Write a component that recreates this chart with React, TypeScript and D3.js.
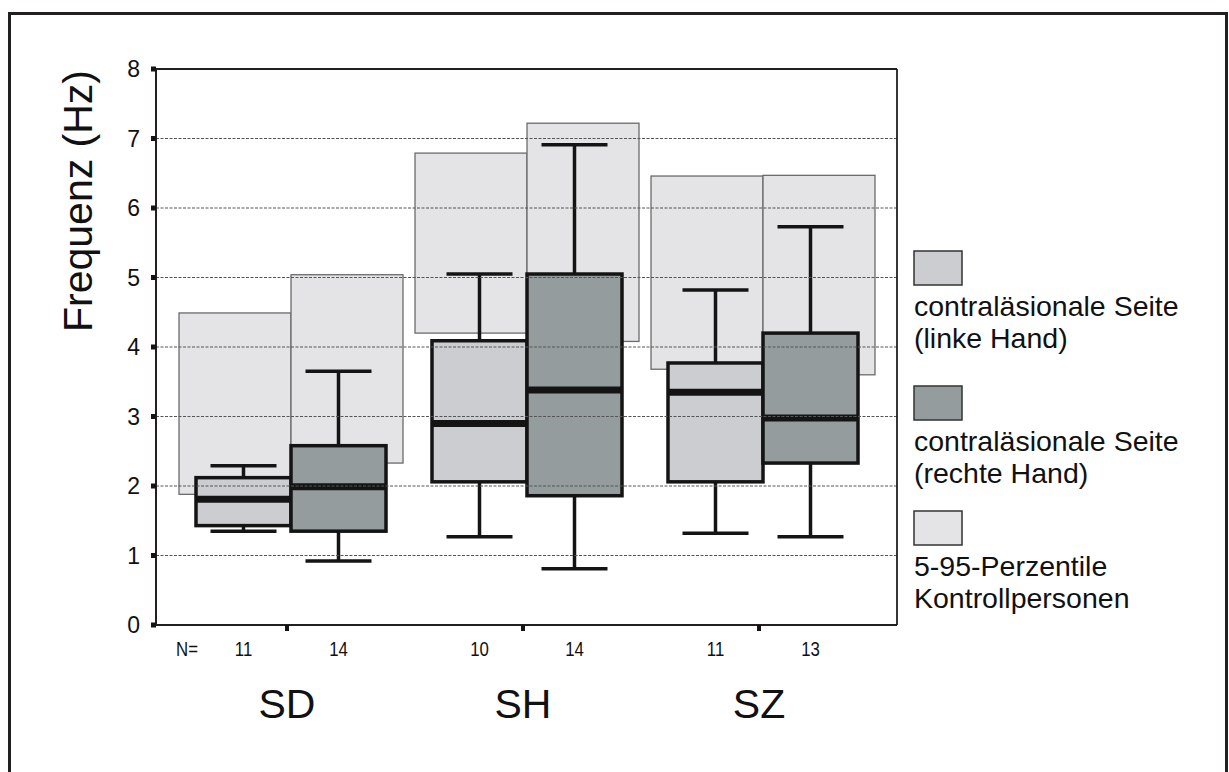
import * as d3 from "d3";

// groups and sample sizes
const groups = ["SD", "SH", "SZ"];
const sides = ["links", "rechts"];
const nLinks = [11, 10, 11];
const nRechts = [14, 14, 13];

// box stats per group: [low whisker, Q1, median, Q3, high whisker]
const boxLinks = [
  [1.35, 1.43, 1.81, 2.12, 2.29],
  [1.27, 2.06, 2.9, 4.09, 5.05],
  [1.32, 2.06, 3.35, 3.77, 4.82],
];
const boxRechts = [
  [0.92, 1.35, 1.99, 2.58, 3.65],
  [0.81, 1.86, 3.38, 5.05, 6.91],
  [1.27, 2.33, 2.98, 4.2, 5.73],
];

// 5-95 percentile of controls: [p5, p95]
const ctrlLinks = [
  [1.88, 4.49],
  [4.2, 6.79],
  [3.68, 6.46],
];
const ctrlRechts = [
  [2.33, 5.04],
  [4.08, 7.22],
  [3.6, 6.47],
];

const yTicks = [0, 1, 2, 3, 4, 5, 6, 7, 8];

const legendItems = [
  { fill: "#cccdd1", lines: ["contraläsionale Seite", "(linke Hand)"] },
  { fill: "#959c9d", lines: ["contraläsionale Seite", "(rechte Hand)"] },
  { fill: "#e4e4e6", lines: ["5-95-Perzentile", "Kontrollpersonen"] },
];
const legendTop = [251, 386, 511];

const width = 1229;
const height = 772;
const left = 156, right = 897, top = 69, bottom = 625;
const font = "Arial, 'Liberation Sans', Helvetica, sans-serif";

export default function App() {
  const y = d3.scaleLinear().domain([0, 8]).range([bottom, top]);
  const x = d3.scalePoint().domain(groups).range([287, 759]);

  const boxW = 95;
  const ctrlW = 112;
  const capW = 66;

  // the two boxes meet a few px right of the tick
  const split = (g: string) => (x(g) as number) + 4;

  const boxColor = ["#cccdd1", "#959c9d"];

  const nLabel = (key: string, cx: number, txt: string | number) => (
    <text key={key} transform={`translate(${cx},656) scale(0.82,1)`} textAnchor="middle"
      fontFamily={font} fontSize={20.5} fill="#111">{txt}</text>
  );

  return (
    <svg width={width} height={height} style={{ display: "block", position: "absolute", left: 0, top: 0 }}>
      <rect x={0} y={0} width={width} height={height} fill="#fff" />
      <rect x={9.5} y={13.5} width={1217} height={780} fill="none" stroke="#231f20" strokeWidth={3} />

      {/* control percentile bands */}
      {groups.map((g, i) =>
        [ctrlLinks[i], ctrlRechts[i]].map((c, s) => {
          const x0 = s === 0 ? split(g) - ctrlW : split(g);
          return (
            <rect key={g + s} x={x0} y={y(c[1])} width={ctrlW} height={y(c[0]) - y(c[1])}
              fill="#e4e4e6" stroke="#6b6b6b" strokeWidth={1.3} />
          );
        })
      )}

      {/* boxes */}
      {groups.map((g, i) =>
        [boxLinks[i], boxRechts[i]].map((b, s) => {
          const x0 = s === 0 ? split(g) - boxW : split(g);
          const cx = x0 + boxW / 2;
          const [lo, q1, med, q3, hi] = b;
          return (
            <g key={g + sides[s]}>
              <line x1={cx} x2={cx} y1={y(q3)} y2={y(hi)} stroke="#141414" strokeWidth={3.5} />
              <line x1={cx} x2={cx} y1={y(q1)} y2={y(lo)} stroke="#141414" strokeWidth={3.5} />
              <line x1={cx - capW / 2} x2={cx + capW / 2} y1={y(hi)} y2={y(hi)} stroke="#141414" strokeWidth={3.5} />
              <line x1={cx - capW / 2} x2={cx + capW / 2} y1={y(lo)} y2={y(lo)} stroke="#141414" strokeWidth={3.5} />
              <rect x={x0} y={y(q3)} width={boxW} height={y(q1) - y(q3)}
                fill={boxColor[s]} stroke="#141414" strokeWidth={3.5} />
              <line x1={x0} x2={x0 + boxW} y1={y(med)} y2={y(med)} stroke="#141414" strokeWidth={7} />
            </g>
          );
        })
      )}

      {/* grid lines on top */}
      {yTicks.filter((t) => t > 0 && t < 8).map((t) => (
        <line key={t} x1={left} x2={right} y1={y(t)} y2={y(t)} stroke="#555" strokeWidth={1} strokeDasharray="3,1.5" />
      ))}

      {/* plot frame */}
      <line x1={left} x2={right} y1={top} y2={top} stroke="#231f20" strokeWidth={1.8} />
      <line x1={right} x2={right} y1={top} y2={bottom} stroke="#231f20" strokeWidth={1.8} />
      <line x1={left} x2={right} y1={bottom} y2={bottom} stroke="#231f20" strokeWidth={2} />
      <line x1={left} x2={left} y1={top} y2={bottom} stroke="#231f20" strokeWidth={2} />

      {/* y axis ticks and labels */}
      {yTicks.map((t) => (
        <g key={t}>
          <rect x={left - 5} y={y(t) - 2.5} width={5} height={5} fill="#141414" />
          <text x={140} y={y(t)} dy="0.36em" textAnchor="end" fontFamily={font} fontSize={23} fill="#111">{t}</text>
        </g>
      ))}
      <text transform={`translate(92, 201) rotate(-90)`} textAnchor="middle" fontFamily={font} fontSize={41} fill="#111">
        Frequenz (Hz)
      </text>

      {/* x axis ticks, N and group labels */}
      {groups.map((g, i) => {
        const cx = x(g) as number;
        return (
          <g key={g}>
            <rect x={cx - 2} y={bottom} width={4} height={6} fill="#141414" />
            {nLabel("l", split(g) - boxW / 2, nLinks[i])}
            {nLabel("r", split(g) + boxW / 2, nRechts[i])}
            <text x={cx} y={718} textAnchor="middle" fontFamily={font} fontSize={41} fill="#111">{g}</text>
          </g>
        );
      })}
      {nLabel("n", 187, "N=")}

      {/* legend */}
      {legendItems.map((it, i) => {
        const y0 = legendTop[i];
        return (
          <g key={i}>
            <rect x={914} y={y0} width={48} height={34} fill={it.fill} stroke="#333" strokeWidth={1.5} />
            {it.lines.map((l, j) => (
              <text key={j} x={914} y={y0 + 65 + j * 32} fontFamily={font} fontSize={28.5} fill="#111">{l}</text>
            ))}
          </g>
        );
      })}
    </svg>
  );
}
